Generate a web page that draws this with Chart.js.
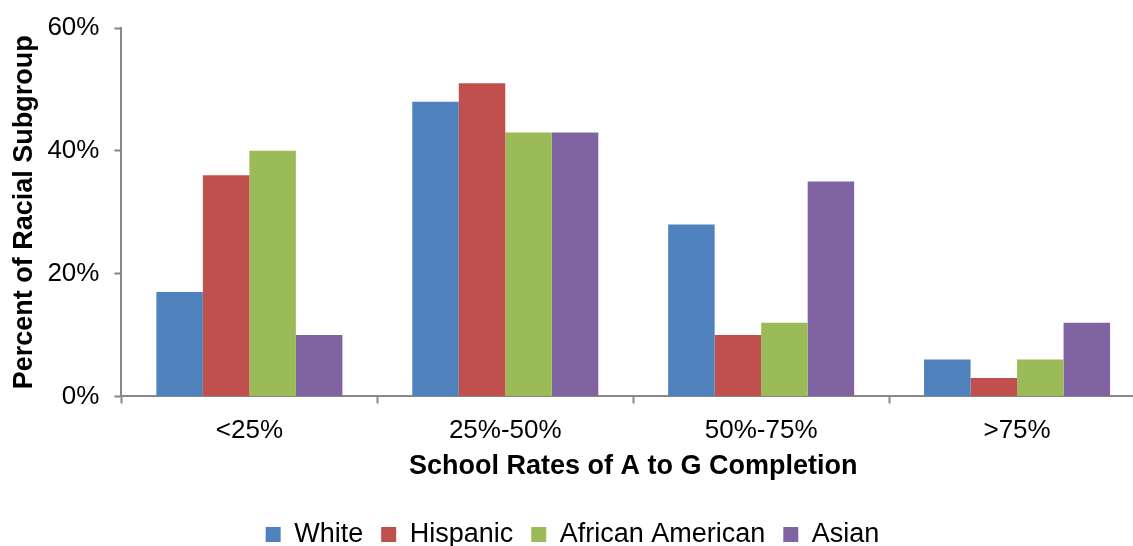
<!DOCTYPE html>
<html lang="en">
<head>
<meta charset="UTF-8">
<title>A to G Completion by Racial Subgroup</title>
<script src="https://cdn.jsdelivr.net/npm/chart.js"></script>
<style>
  html, body { margin: 0; padding: 0; background: #fff; overflow: hidden; }
  .chart-box { width: 1145px; height: 558px; position: relative; }
</style>
</head>
<body>
<div class="chart-box">
  <canvas id="grafico"></canvas>
</div>

<script>
  // categories and series
  var faixas = ['<25%', '25%-50%', '50%-75%', '>75%'];
  var grupos = ['White', 'Hispanic', 'African American', 'Asian'];
  var white = [17, 48, 28, 6];
  var hispanic = [36, 51, 10, 3];
  var africanAmerican = [40, 43, 12, 6];
  var asian = [10, 43, 35, 12];
  var cores = ['#4F81BD', '#C0504D', '#9BBB59', '#8064A2'];
  var yTicks = [0, 20, 40, 60];

  var valores = [white, hispanic, africanAmerican, asian];

  var fonte = "'Liberation Sans', Arial, sans-serif";
  var eixoCor = '#878787';

  const data = {
    labels: faixas,
    datasets: grupos.map(function (g, i) {
      return {
        label: g,
        data: valores[i],
        backgroundColor: cores[i],
        borderWidth: 0,
        barPercentage: 1.0,
        categoryPercentage: 0.727
      };
    })
  };

  const config = {
    type: 'bar',
    data: data,
    options: {
      responsive: true,
      maintainAspectRatio: false,
      animation: false,
      layout: { padding: { left: 0, right: 0, top: 4, bottom: 0 } },
      plugins: {
        tooltip: { enabled: false },
        legend: {
          position: 'bottom',
          labels: {
            font: { family: fonte, size: 27 },
            color: '#000',
            boxWidth: 15,
            boxHeight: 15,
            padding: 18,
            generateLabels: function (chart) {
              return chart.data.datasets.map(function (ds, i) {
                return {
                  text: ds.label,
                  fillStyle: ds.backgroundColor,
                  strokeStyle: ds.backgroundColor,
                  lineWidth: 0,
                  datasetIndex: i
                };
              });
            }
          }
        }
      },
      scales: {
        x: {
          grid: {
            display: true,
            drawOnChartArea: false,
            drawTicks: true,
            tickLength: 7,
            tickColor: eixoCor,
            tickWidth: 2,
            offset: true
          },
          border: { color: eixoCor, width: 2 },
          ticks: {
            font: { family: fonte, size: 26 },
            color: '#000',
            padding: 12
          },
          title: {
            display: true,
            text: 'School Rates of A to G Completion',
            font: { family: fonte, size: 27, weight: 'bold' },
            color: '#000',
            padding: { top: -8, bottom: 20 }
          }
        },
        y: {
          min: 0,
          max: 60,
          afterBuildTicks: function (axis) {
            axis.ticks = yTicks.map(function (v) { return { value: v }; });
          },
          grid: {
            display: true,
            drawOnChartArea: false,
            drawTicks: true,
            tickLength: 7,
            tickColor: eixoCor,
            tickWidth: 2
          },
          border: { color: eixoCor, width: 2 },
          ticks: {
            font: { family: fonte, size: 26, lineHeight: 1 },
            color: '#000',
            padding: 15,
            callback: function (v) { return v + '%'; }
          },
          title: {
            display: true,
            text: 'Percent of Racial Subgroup',
            font: { family: fonte, size: 27, weight: 'bold' },
            color: '#000',
            padding: { top: 8, bottom: -8 }
          }
        }
      }
    }
  };

  const grafico = new Chart(document.getElementById('grafico'), config);
</script>
</body>
</html>
